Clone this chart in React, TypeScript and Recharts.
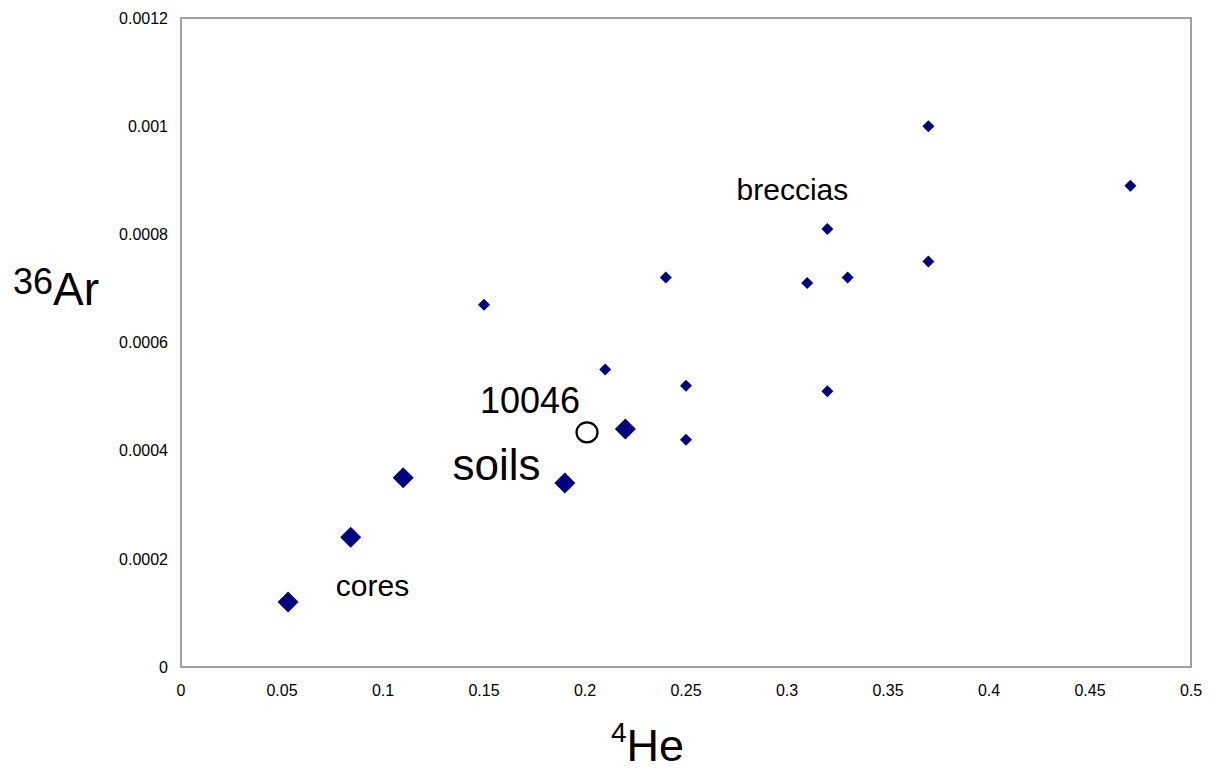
import { ScatterChart, Scatter, XAxis, YAxis, ReferenceArea, ReferenceDot, Label } from 'recharts';

// breccias (small diamonds)
const brecciaHe = [0.15, 0.21, 0.24, 0.25, 0.25, 0.31, 0.32, 0.33, 0.32, 0.37, 0.37, 0.47];
const brecciaAr = [0.00067, 0.00055, 0.00072, 0.00052, 0.00042, 0.00071, 0.00081, 0.00072, 0.00051, 0.001, 0.00075, 0.00089];

// soils / cores (large diamonds)
const soilHe = [0.053, 0.084, 0.11, 0.19, 0.22];
const soilAr = [0.00012, 0.00024, 0.00035, 0.00034, 0.00044];

// sample 10046 (open circle)
const sampleHe = [0.201];
const sampleAr = [0.000434];

const xTicks = [0, 0.05, 0.1, 0.15, 0.2, 0.25, 0.3, 0.35, 0.4, 0.45, 0.5];
const yTicks = [0, 0.0002, 0.0004, 0.0006, 0.0008, 0.001, 0.0012];

const notes = [
  { text: 'breccias', x: 0.3027, y: 0.000884, size: 30 },
  { text: '10046', x: 0.1728, y: 0.000494, size: 36 },
  { text: 'soils', x: 0.1562, y: 0.000375, size: 44 },
  { text: 'cores', x: 0.0948, y: 0.000151, size: 30 },
];

const toPoints = (xs: number[], ys: number[]) => xs.map((x, i) => ({ he: x, ar: ys[i] }));

const FONT = '"Liberation Sans", Arial, sans-serif';
const NAVY = '#000080';

const diamond = (half: number) => (props: any) => {
  const { cx, cy } = props;
  if (cx == null || cy == null) return <g />;
  return (
    <polygon
      points={`${cx},${cy - half} ${cx + half},${cy} ${cx},${cy + half} ${cx - half},${cy}`}
      fill={NAVY}
    />
  );
};

const ring = (props: any) => {
  const { cx, cy } = props;
  if (cx == null || cy == null) return <g />;
  return <ellipse cx={cx} cy={cy} rx={10.5} ry={10} fill="#fff" stroke="#000" strokeWidth={2.2} />;
};

const tickStyle = { fontSize: 16, fill: '#000', fontFamily: FONT };

export default function App() {
  return (
    <div style={{ position: 'absolute', left: 0, top: 0, background: '#fff' }}>
      <ScatterChart
        width={1214}
        height={771}
        margin={{ top: 18, right: 23, bottom: 74, left: 121 }}
        style={{ fontFamily: FONT }}
      >
        <XAxis
          type="number"
          dataKey="he"
          domain={[0, 0.5]}
          ticks={xTicks}
          height={30}
          axisLine={false}
          tickLine={false}
          tickSize={6}
          tickMargin={12}
          tick={tickStyle}
          interval={0}
        >
          <Label
            content={(p: any) => {
              const vb = p.viewBox || { x: 181, y: 667, width: 1010 };
              return (
                <text x={vb.x + vb.width / 2 - 75} y={vb.y + 94} fontFamily={FONT} fill="#000">
                  <tspan fontSize={28} dy={-19}>4</tspan>
                  <tspan fontSize={45} dy={19}>He</tspan>
                </text>
              );
            }}
          />
        </XAxis>
        <YAxis
          type="number"
          dataKey="ar"
          domain={[0, 0.0012]}
          ticks={yTicks}
          width={60}
          axisLine={false}
          tickLine={false}
          tickSize={6}
          tickMargin={7}
          tick={tickStyle}
          interval={0}
        >
          <Label
            content={(p: any) => {
              const vb = p.viewBox || { x: 121, y: 18 };
              return (
                <text x={vb.x - 108} y={vb.y + 287} fontFamily={FONT} fill="#000">
                  <tspan fontSize={36} dy={-11}>36</tspan>
                  <tspan fontSize={46} dy={11}>Ar</tspan>
                </text>
              );
            }}
          />
        </YAxis>
        <ReferenceArea x1={0} x2={0.5} y1={0} y2={0.0012} fill="none" stroke="#a0a0a0" strokeWidth={2} />
        <Scatter data={toPoints(brecciaHe, brecciaAr)} shape={diamond(6)} isAnimationActive={false} />
        <Scatter data={toPoints(soilHe, soilAr)} shape={diamond(10.5)} isAnimationActive={false} />
        <Scatter data={toPoints(sampleHe, sampleAr)} shape={ring} isAnimationActive={false} />
        {notes.map((n) => (
          <ReferenceDot
            key={n.text}
            x={n.x}
            y={n.y}
            r={0}
            fill="none"
            stroke="none"
            label={{ value: n.text, position: 'center', fontSize: n.size, fill: '#000', fontFamily: FONT }}
          />
        ))}
      </ScatterChart>
    </div>
  );
}
